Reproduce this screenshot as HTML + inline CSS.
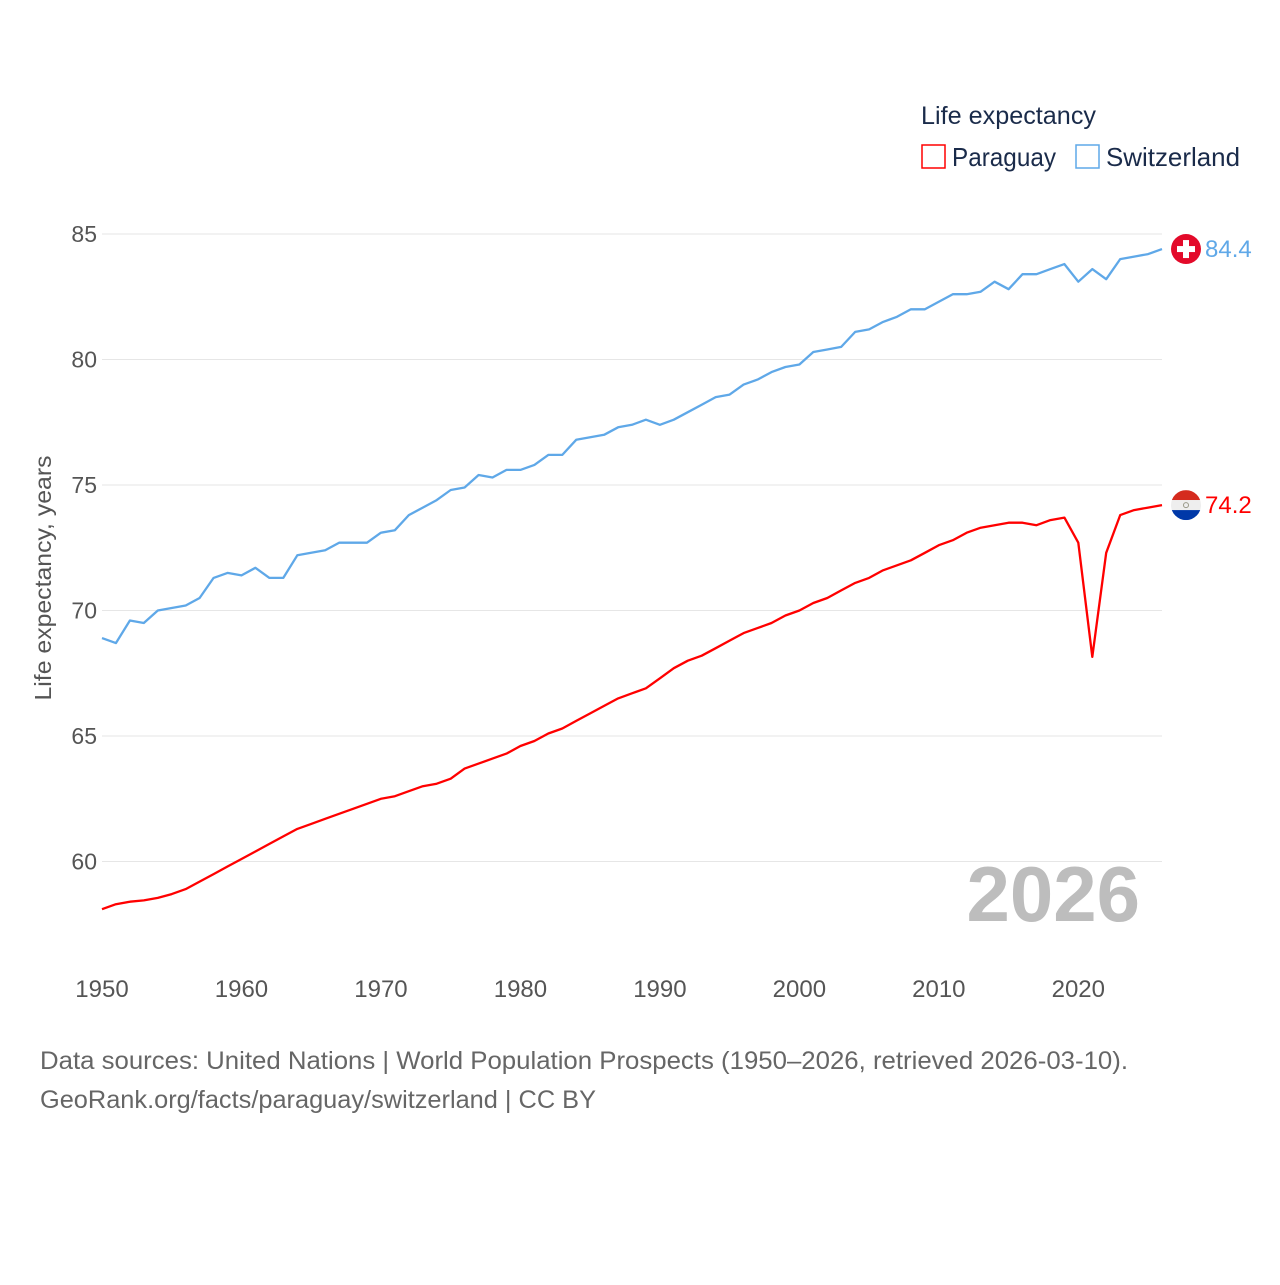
<!DOCTYPE html>
<html><head><meta charset="utf-8"><style>
body{margin:0;background:#fff;}
svg text{font-family:"Liberation Sans",sans-serif;}
</style></head><body>
<svg width="1280" height="1280" viewBox="0 0 1280 1280">
<g id="grid"></g>
<g id="yticks"></g>
<g id="xticks"></g>
<text x="51" y="578" transform="rotate(-90 51 578)" text-anchor="middle" font-size="23" fill="#555" textLength="245" lengthAdjust="spacingAndGlyphs">Life expectancy, years</text>
<text x="1140" y="921" text-anchor="end" font-size="78" font-weight="bold" fill="#bdbdbd">2026</text>
<g id="series"></g>
<g>
<text x="921" y="124" font-size="25" fill="#1a2b4a" textLength="175" lengthAdjust="spacingAndGlyphs">Life expectancy</text>
<g><rect x="922" y="145" width="23" height="23" fill="none" stroke="#ff0000" stroke-width="1.5"/><text x="952" y="166" font-size="26" fill="#1a2b4a" textLength="104" lengthAdjust="spacingAndGlyphs">Paraguay</text></g>
<g><rect x="1076" y="145" width="23" height="23" fill="none" stroke="#5fa8e8" stroke-width="1.5"/><text x="1106" y="166" font-size="26" fill="#1a2b4a" textLength="134" lengthAdjust="spacingAndGlyphs">Switzerland</text></g>
</g>
<g>
<text x="40" y="1069" font-size="25" fill="#666" textLength="1088" lengthAdjust="spacingAndGlyphs">Data sources: United Nations | World Population Prospects (1950–2026, retrieved 2026-03-10).</text>
<text x="40" y="1108" font-size="25" fill="#666" textLength="556" lengthAdjust="spacingAndGlyphs">GeoRank.org/facts/paraguay/switzerland | CC BY</text>
</g>
</svg>
<script>
const years=[];for(let y=1950;y<=2026;y++)years.push(y);
const switzerland=[68.9,68.7,69.6,69.5,70.0,70.1,70.2,70.5,71.3,71.5,71.4,71.7,71.3,71.3,72.2,72.3,72.4,72.7,72.7,72.7,73.1,73.2,73.8,74.1,74.4,74.8,74.9,75.4,75.3,75.6,75.6,75.8,76.2,76.2,76.8,76.9,77.0,77.3,77.4,77.6,77.4,77.6,77.9,78.2,78.5,78.6,79.0,79.2,79.5,79.7,79.8,80.3,80.4,80.5,81.1,81.2,81.5,81.7,82.0,82.0,82.3,82.6,82.6,82.7,83.1,82.8,83.4,83.4,83.6,83.8,83.1,83.6,83.2,84.0,84.1,84.2,84.4];
const paraguay=[58.1,58.3,58.4,58.45,58.55,58.7,58.9,59.2,59.5,59.8,60.1,60.4,60.7,61.0,61.3,61.5,61.7,61.9,62.1,62.3,62.5,62.6,62.8,63.0,63.1,63.3,63.7,63.9,64.1,64.3,64.6,64.8,65.1,65.3,65.6,65.9,66.2,66.5,66.7,66.9,67.3,67.7,68.0,68.2,68.5,68.8,69.1,69.3,69.5,69.8,70.0,70.3,70.5,70.8,71.1,71.3,71.6,71.8,72.0,72.3,72.6,72.8,73.1,73.3,73.4,73.5,73.5,73.4,73.6,73.7,72.7,68.15,72.3,73.8,74.0,74.1,74.2];
const yTicks=[60,65,70,75,80,85];
const xTicks=[1950,1960,1970,1980,1990,2000,2010,2020];
const NS="http://www.w3.org/2000/svg";
function xs(v){return 102+(v-1950)*(1060/76);}
function ys(v){return 234+(85-v)*25.1;}
function mk(t,a,p){const e=document.createElementNS(NS,t);for(const k in a)e.setAttribute(k,a[k]);p.appendChild(e);return e;}
const grid=document.getElementById('grid'),yt=document.getElementById('yticks'),xt=document.getElementById('xticks'),ser=document.getElementById('series');
yTicks.forEach(v=>{
  const l=mk('line',{x1:102,x2:1162,y1:ys(v),y2:ys(v),stroke:'#e6e6e6','stroke-width':1},grid);
  
  
  const t=mk('text',{x:97,y:ys(v)+8,'text-anchor':'end','font-size':23,fill:'#555'},yt);
  t.textContent=v;
  
  
});
xTicks.forEach(v=>{
  const t=mk('text',{x:xs(v),y:997,'text-anchor':'middle','font-size':24,fill:'#555'},xt);
  t.textContent=v;
  
  
});
function line(data,color,name){
  const d=data.map((v,i)=>(i?'L':'M')+xs(years[i]).toFixed(1)+','+ys(v).toFixed(1)).join('');
  const p=mk('path',{d:d,fill:'none',stroke:color,'stroke-width':2.3,'stroke-linejoin':'round'},ser);
  
  
}
line(switzerland,'#5fa8e8','line-switzerland');
line(paraguay,'#ff0000','line-paraguay');
const sv=switzerland[switzerland.length-1],pv=paraguay[paraguay.length-1];
const sy=ys(sv),py=ys(pv),fx=1186;
const sf=mk('g',{},ser);


mk('circle',{cx:fx,cy:sy,r:15,fill:'#e30a2a'},sf);
mk('rect',{x:fx-3,y:sy-9,width:6,height:18,fill:'#fff'},sf);
mk('rect',{x:fx-9,y:sy-3,width:18,height:6,fill:'#fff'},sf);
const sl=mk('text',{x:1205,y:sy+8,'font-size':24,fill:'#5fa8e8'},ser);
sl.textContent=sv.toFixed(1);


const pf=mk('g',{},ser);


mk('clipPath',{id:'pc'},pf);
mk('circle',{cx:fx,cy:py,r:15},pf.querySelector('#pc'));
const pg=mk('g',{'clip-path':'url(#pc)'},pf);
mk('rect',{x:fx-15,y:py-15,width:30,height:10,fill:'#d52b1e'},pg);
mk('rect',{x:fx-15,y:py-5,width:30,height:10,fill:'#eee'},pg);
mk('rect',{x:fx-15,y:py+5,width:30,height:10,fill:'#0038a8'},pg);
mk('circle',{cx:fx,cy:py,r:2.5,fill:'none',stroke:'#998','stroke-width':1},pf);
const pl=mk('text',{x:1205,y:py+8,'font-size':24,fill:'#ff0000'},ser);
pl.textContent=pv.toFixed(1);


</script>
</body></html>
